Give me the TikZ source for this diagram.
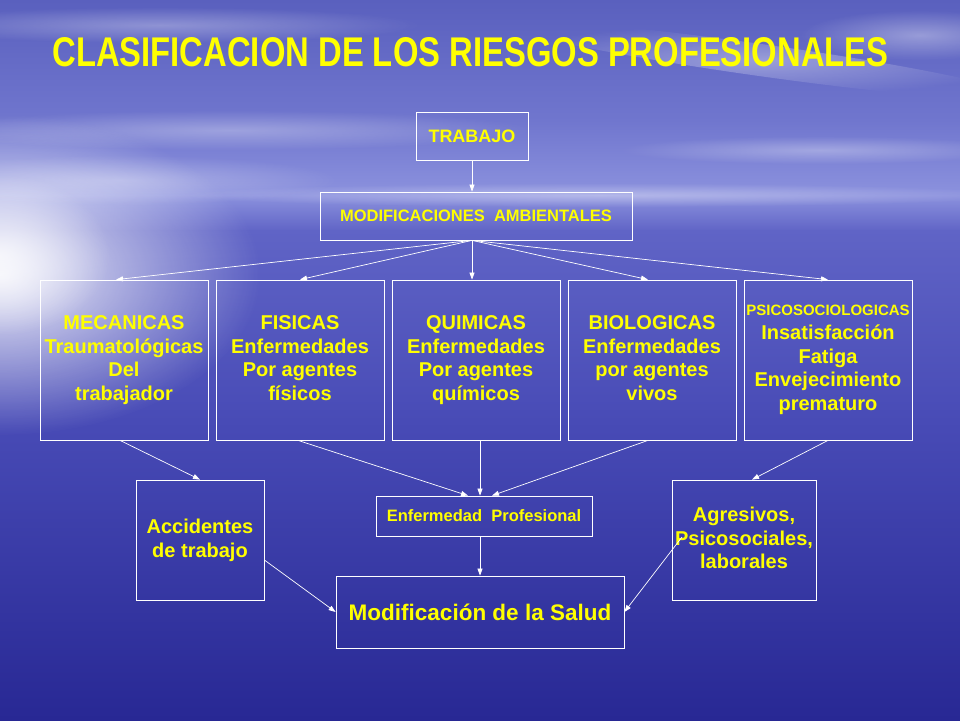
\documentclass[tikz,border=0pt]{standalone}
\usepackage{fontspec}
\usepackage{graphicx}
\setmainfont{Liberation Sans}
\usetikzlibrary{arrows.meta,fadings,calc}
\definecolor{ylw}{RGB}{255,255,0}
\definecolor{bgA}{RGB}{90,96,190}
\definecolor{bgB}{RGB}{112,118,206}
\definecolor{bgC}{RGB}{140,146,222}
\definecolor{bgD}{RGB}{96,100,198}
\definecolor{bgE}{RGB}{72,75,182}
\definecolor{bgF}{RGB}{40,40,148}
\tikzfading[name=glowfade, inner color=transparent!0, outer color=transparent!100]
\begin{document}
\begin{tikzpicture}[x=1pt,y=-1pt,
  box/.style={draw=white, line width=0.75pt, text=ylw, align=center, inner sep=0pt,
    font=\bfseries\fontsize{20}{23.7}\selectfont},
  multi/.style={execute at begin node={\rule{0pt}{21pt}}, execute at end node={\rule[-4.2pt]{0pt}{4.2pt}}},
  single/.style={text height=#1, text depth=0pt},
  arr/.style={draw=white, line width=0.7pt, -{Triangle[width=5pt,length=7pt]}},
  cloud/.style={fill=white, path fading=glowfade}]
\useasboundingbox (0,0) rectangle (960,720);
% background
\shade[top color=bgA, bottom color=bgB] (0,0) rectangle (960,121);
\shade[top color=bgB, bottom color=bgC] (0,120) rectangle (960,196);
\shade[top color=bgC, bottom color=bgD] (0,195) rectangle (960,231);
\shade[top color=bgD, bottom color=bgE] (0,230) rectangle (960,421);
\shade[top color=bgE, bottom color=bgF] (0,420) rectangle (960,720);
\fill[cloud, fill opacity=0.9] (0,275) ellipse (260 and 160);
\fill[cloud, fill opacity=0.75] (0,255) ellipse (110 and 80);
\fill[cloud, fill opacity=0.3] (160,25) ellipse (260 and 18);
\fill[cloud, fill opacity=0.35, rotate around={-8:(760,60)}] (760,60) ellipse (260 and 16);
\fill[cloud, fill opacity=0.3] (230,130) ellipse (300 and 20);
\fill[cloud, fill opacity=0.3] (820,150) ellipse (200 and 14);
\fill[cloud, fill opacity=0.35] (600,195) ellipse (420 and 12);
\fill[cloud, fill opacity=0.3] (120,180) ellipse (220 and 25);
\fill[cloud, fill opacity=0.35] (920,35) ellipse (120 and 25);
% title
\node[text=ylw, inner sep=0pt, font=\bfseries] (title) at (470.5,52.5)
  {\resizebox{836pt}{29pt}{CLASIFICACION DE LOS RIESGOS PROFESIONALES}};
% boxes
\node[box, single=12.9pt, minimum width=112, minimum height=48, font=\bfseries\fontsize{18}{21}\selectfont] (tra) at (472,136) {TRABAJO};
\node[box, single=11.8pt, minimum width=312, minimum height=48, font=\bfseries\fontsize{16.5}{20}\selectfont] (mod) at (476,216) {MODIFICACIONES\ \ AMBIENTALES};
\node[box, multi, minimum width=168, minimum height=160] (mec) at (124,360) {MECANICAS\\Traumatológicas\\Del\\trabajador};
\node[box, multi, minimum width=168, minimum height=160] (fis) at (300,360) {FISICAS\\Enfermedades\\Por agentes\\físicos};
\node[box, multi, minimum width=168, minimum height=160] (qui) at (476,360) {QUIMICAS\\Enfermedades\\Por agentes\\químicos};
\node[box, multi, minimum width=168, minimum height=160] (bio) at (652,360) {BIOLOGICAS\\Enfermedades\\por agentes\\vivos};
\node[box, minimum width=168, minimum height=160,
  execute at begin node={\rule{0pt}{13pt}}, execute at end node={\rule[-4.2pt]{0pt}{4.2pt}}] (psi) at (828,360)
  {{\fontsize{15}{18}\selectfont PSICOSOCIOLOGICAS}\\Insatisfacción\\Fatiga\\Envejecimiento\\prematuro};
\node[box, multi, minimum width=128, minimum height=120] (acc) at (200,540) {Accidentes\\de trabajo};
\node[box, single=11.8pt, minimum width=216, minimum height=40, font=\bfseries\fontsize{16.5}{20}\selectfont] (enf) at (484,516) {Enfermedad\ \ Profesional};
\node[box, multi, minimum width=144, minimum height=120] (agr) at (744,540) {Agresivos,\\Psicosociales,\\laborales};
\node[box, single=16.1pt, minimum width=288, minimum height=72, font=\bfseries\fontsize{22.5}{26}\selectfont] (sal) at (480,612) {Modificación de la Salud};
% connectors
\coordinate (hub) at (tra.south |- mod.south);
\coordinate (agrs) at (682,537);
\draw[arr] (tra.south) -- (tra.south |- mod.north);
\draw[arr] (hub) -- ($(mec.north)+(-8,0)$);
\draw[arr] (hub) -- (fis.north);
\draw[arr] (hub) -- (hub |- qui.north);
\draw[arr] (hub) -- ($(bio.north)+(-4,0)$);
\draw[arr] (hub) -- (psi.north);
\draw[arr] ($(mec.south)+(-4,0)$) -- (acc.north);
\draw[arr] ($(fis.south)+(-2,0)$) -- ($(enf.north)+(-16,0)$);
\draw[arr] ($(qui.south)+(4,0)$) -- ($(enf.north)+(-4,0)$);
\draw[arr] ($(bio.south)+(-4,0)$) -- ($(enf.north)+(8,0)$);
\draw[arr] (psi.south) -- ($(agr.north)+(8,0)$);
\draw[arr] ($(enf.south)+(-4,0)$) -- (sal.north);
\draw[arr] ($(acc.east)+(0,20)$) -- (sal.west);
\draw[arr] (agrs) -- (sal.east);
\end{tikzpicture}
\end{document}
